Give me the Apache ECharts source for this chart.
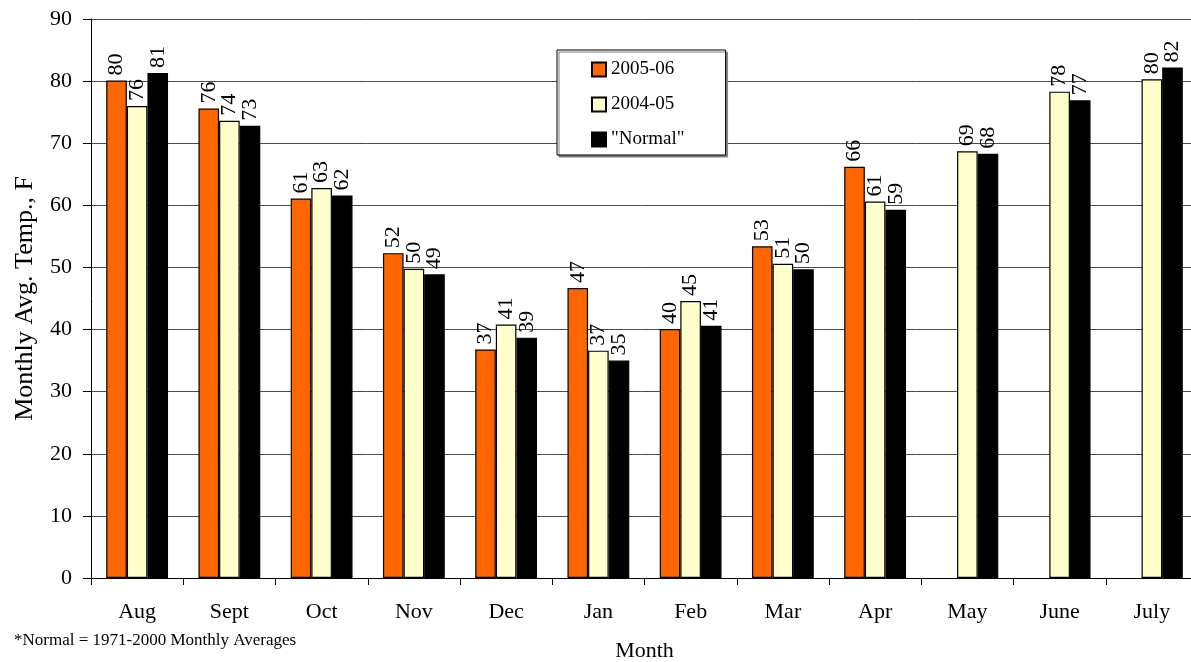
<!DOCTYPE html>
<html>
<head>
<meta charset="utf-8">
<script src="https://cdn.jsdelivr.net/npm/echarts@6/dist/echarts.min.js"></script>
<style>
  html, body { margin: 0; padding: 0; background: #fff; }
  #chart { width: 1191px; height: 662px; }
</style>
</head>
<body>
<div id="chart"></div>
<script>
// Monthly average temperatures (deg F), August through July
var months = ['Aug', 'Sept', 'Oct', 'Nov', 'Dec', 'Jan', 'Feb', 'Mar', 'Apr', 'May', 'June', 'July'];
var season0506 = [80.1, 75.6, 61.1, 52.3, 36.8, 46.7, 40.1, 53.4, 66.2, null, null, null];
var season0405 = [76.0, 73.6, 62.8, 49.8, 40.8, 36.6, 44.6, 50.6, 60.6, 68.7, 78.3, 80.3];
var normals    = [81.3, 72.8, 61.6, 48.9, 38.7, 35.0, 40.6, 49.7, 59.3, 68.3, 76.9, 82.2];
var seriesNames = ['2005-06', '2004-05', '"Normal"'];
var yTicks = { min: 0, max: 90, step: 10 };

var FONT = '"Liberation Serif", "Times New Roman", serif';
var colors = ['#FF6600', '#FFFFCC', '#000000'];

function barSeries(name, data, color) {
  return {
    name: name,
    type: 'bar',
    data: data,
    barGap: '0%',
    barCategoryGap: '33%',
    itemStyle: { color: color, borderColor: '#000', borderWidth: 1.2 },
    label: {
      show: true,
      position: 'top',
      rotate: 90,
      align: 'left',
      verticalAlign: 'middle',
      distance: 5,
      fontFamily: FONT,
      fontSize: 22,
      color: '#000',
      formatter: function (p) { return Math.round(p.value); }
    }
  };
}

var chart = echarts.init(document.getElementById('chart'), null, { renderer: 'canvas' });
chart.setOption({
  animation: false,
  backgroundColor: '#fff',
  textStyle: { fontFamily: FONT, color: '#000' },
  grid: { left: 91, top: 19, width: 1107, height: 559, containLabel: false, outerBoundsMode: 'none' },
  legend: {
    orient: 'vertical',
    left: 557,
    top: 50,
    data: seriesNames,
    icon: 'rect',
    itemWidth: 14,
    itemHeight: 14,
    itemGap: 16,
    padding: [10, 41, 6, 34],
    backgroundColor: '#fff',
    borderColor: '#000',
    borderWidth: 1,
    shadowColor: '#808080',
    shadowOffsetX: 2,
    shadowOffsetY: 2,
    shadowBlur: 0,
    textStyle: { fontFamily: FONT, fontSize: 19, color: '#000' },
    selectedMode: false
  },
  xAxis: {
    type: 'category',
    data: months,
    name: 'Month',
    nameLocation: 'middle',
    nameGap: 62,
    nameTextStyle: { fontFamily: FONT, fontSize: 22, color: '#000' },
    axisLine: { lineStyle: { color: '#000', width: 1 } },
    axisTick: { show: true, length: 7, lineStyle: { color: '#000' } },
    axisLabel: { fontFamily: FONT, fontSize: 22, color: '#000', margin: 23 }
  },
  yAxis: {
    type: 'value',
    min: yTicks.min,
    max: yTicks.max,
    interval: yTicks.step,
    name: 'Monthly Avg. Temp., F',
    nameLocation: 'middle',
    nameGap: 53,
    nameRotate: 90,
    nameTextStyle: { fontFamily: FONT, fontSize: 26, color: '#000' },
    axisLine: { show: true, lineStyle: { color: '#000', width: 1 } },
    axisTick: { show: true, length: 8, lineStyle: { color: '#000' } },
    axisLabel: { fontFamily: FONT, fontSize: 22, color: '#000', margin: 19 },
    splitLine: { show: true, lineStyle: { color: '#4a4a4a', width: 1 } }
  },
  graphic: [{
    type: 'text',
    left: 14,
    top: 632,
    style: {
      text: '*Normal = 1971-2000 Monthly Averages',
      font: '17px ' + FONT,
      fill: '#000'
    }
  }],
  series: [
    barSeries(seriesNames[0], season0506, colors[0]),
    barSeries(seriesNames[1], season0405, colors[1]),
    barSeries(seriesNames[2], normals, colors[2])
  ]
});
</script>
</body>
</html>
